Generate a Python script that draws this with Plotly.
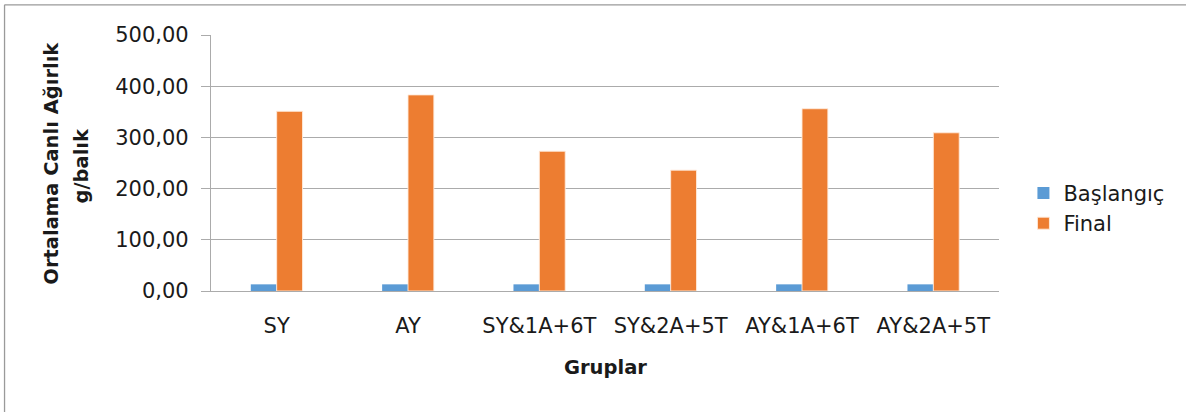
import plotly.graph_objects as go

# Group names and mean live weights (g/fish)
groups = ["SY", "AY", "SY&1A+6T", "SY&2A+5T", "AY&1A+6T", "AY&2A+5T"]
baslangic = [13, 13, 13, 13, 13, 13]
final = [351, 383, 273, 236, 356, 309]
y_ticks = [0, 100, 200, 300, 400, 500]

BLUE = "#5B9BD5"
ORANGE = "#ED7D31"
GRID = "#ABABAB"
TEXT = "#1a1a1a"
FONT = "DejaVu Sans"

fig = go.Figure()
fig.add_trace(go.Bar(
    x=groups, y=baslangic, name="Başlangıç",
    marker=dict(color=BLUE, line=dict(width=0)),
    legendgroup="a",
))
fig.add_trace(go.Bar(
    x=groups, y=final, name="Final",
    marker=dict(color=ORANGE, line=dict(width=1, color="rgba(255,235,220,0.9)")),
    legendgroup="b",
))

fig.update_layout(
    width=1186, height=412,
    margin=dict(l=211, r=187, t=35, b=121),
    paper_bgcolor="white", plot_bgcolor="white",
    barmode="group", bargap=0.606, bargroupgap=0,
    separators=",.",
    font=dict(family=FONT, size=21, color=TEXT),
    showlegend=True,
    legend=dict(
        x=1.031, y=0.462, xanchor="left", yanchor="top",
        font=dict(family=FONT, size=21, color=TEXT),
        traceorder="grouped", tracegroupgap=0,
        bgcolor="rgba(0,0,0,0)",
    ),
)

fig.update_yaxes(
    range=[0, 500], tickvals=y_ticks, tickformat=".2f",
    showgrid=True, gridcolor=GRID, gridwidth=1.3,
    showline=True, linecolor=GRID, linewidth=1.3,
    ticks="outside", ticklen=9, tickcolor=GRID, tickwidth=1.3,
    ticklabelstandoff=8,
    zeroline=False,
    tickfont=dict(family=FONT, size=21, color=TEXT),
)
fig.update_xaxes(
    showgrid=False, showline=True, linecolor=GRID, linewidth=1.3,
    ticks="", ticklabelstandoff=16,
    tickfont=dict(family=FONT, size=21, color=TEXT),
)

# Axis titles
fig.add_annotation(
    text="<b>Ortalama Canlı Ağırlık</b>", textangle=-90,
    xref="paper", yref="paper", x=-0.2035, y=0.5,
    xanchor="center", yanchor="middle", showarrow=False,
    font=dict(family=FONT, size=19.5, color=TEXT),
)
fig.add_annotation(
    text="<b>g/balık</b>", textangle=-90,
    xref="paper", yref="paper", x=-0.1637, y=0.49,
    xanchor="center", yanchor="middle", showarrow=False,
    font=dict(family=FONT, size=19.5, color=TEXT),
)
fig.add_annotation(
    text="<b>Gruplar</b>",
    xref="paper", yref="paper", x=0.5, y=-0.30,
    xanchor="center", yanchor="middle", showarrow=False,
    font=dict(family=FONT, size=19.5, color=TEXT),
)

# Chart frame (left and top edges)
fig.add_shape(type="line", xref="paper", yref="paper",
              x0=-0.262, x1=-0.262, y0=1.118, y1=-0.48,
              line=dict(color="#9a9a9a", width=1.3))
fig.add_shape(type="line", xref="paper", yref="paper",
              x0=-0.262, x1=1.24, y0=1.118, y1=1.118,
              line=dict(color="#9a9a9a", width=1.3))

fig.write_html("out.html")
